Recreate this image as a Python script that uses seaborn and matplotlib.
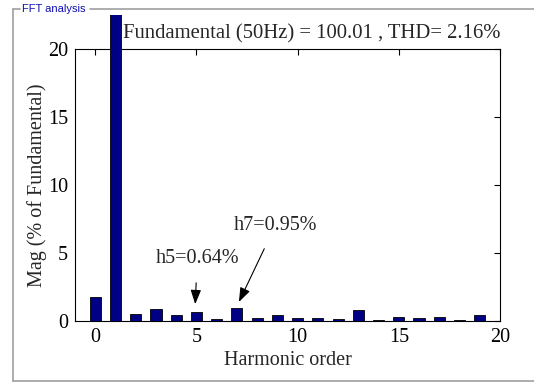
import matplotlib
matplotlib.use("Agg")
import matplotlib.pyplot as plt
from matplotlib.transforms import Bbox, TransformedBbox
from matplotlib.lines import Line2D
import seaborn as sns
import pandas as pd

# ---- data ----
harmonic_order = list(range(20))
magnitude = [1.79, 100.01, 0.54, 0.86, 0.42, 0.64, 0.15, 0.95, 0.20, 0.42,
             0.20, 0.20, 0.15, 0.81, 0.07, 0.32, 0.20, 0.32, 0.07, 0.42]
x_ticks = [0, 5, 10, 15, 20]
y_ticks = [0, 5, 10, 15, 20]
title_text = "Fundamental (50Hz) = 100.01 , THD= 2.16%"
panel_label = "FFT analysis"
annotations = [("h5=0.64%", 5, 0.64), ("h7=0.95%", 7, 0.95)]

df = pd.DataFrame({"order": harmonic_order, "mag": magnitude})

sns.set_style("white")
plt.rcParams["font.family"] = ["Liberation Serif", "DejaVu Serif"]

fig = plt.figure(figsize=(5.34, 3.83), dpi=100)
ax = fig.add_axes([75 / 534, 1 - 321 / 383, 425 / 534, (321 - 49.3) / 383])

sns.barplot(data=df, x="order", y="mag", native_scale=True, width=0.55,
            color="#000085", edgecolor="black", linewidth=0.6,
            saturation=1, ax=ax, errorbar=None)

ax.set_xlim(-1, 20)
ax.set_ylim(0, 20)
ax.set_xticks(x_ticks)
ax.set_yticks(y_ticks)
ax.tick_params(direction="in", length=4, width=0.8, top=True, right=True,
               labelsize=14.5, pad=5, colors="black")
ax.set_xlabel("Harmonic order", fontsize=14.5, labelpad=3)
ax.set_ylabel("Mag (% of Fundamental)", fontsize=14.5, labelpad=1)
for s in ax.spines.values():
    s.set_visible(True)
    s.set_color("black")
    s.set_linewidth(0.8)

# Let the off-scale fundamental bar run past the axes top, like the original
clip = TransformedBbox(Bbox([[0, 0], [1, 1 - 15 / 383]]), fig.transFigure)
for p in ax.patches:
    p.set_zorder(3)
    x0 = p.get_x() + p.get_width() / 2
    if abs(x0 - 1) < 0.01:
        p.set_clip_on(True)
        p.set_clip_box(clip)
        p.set_clip_path(None)

ax.text(0.557, 1.056, title_text, transform=ax.transAxes, fontsize=14.9,
        ha="center", va="center")

# annotations
arrow = dict(arrowstyle="-|>,head_length=0.6,head_width=0.22",
             color="black", lw=0.8, shrinkA=8, shrinkB=0)
ax.annotate(annotations[0][0], xy=(annotations[0][1] - 0.06, annotations[0][2] + 0.6),
            xytext=(5.04, 4.57), ha="center", va="center", fontsize=14.5,
            arrowprops=arrow)
ax.annotate(annotations[1][0], xy=(annotations[1][1] + 0.1, annotations[1][2] + 0.45),
            xytext=(8.89, 7.0), ha="center", va="center", fontsize=14.5,
            arrowprops=arrow)

# etched panel border with label
W, H = 534, 383
gray = "#a0a0a0"
def px_line(x0, y0, x1, y1):
    fig.add_artist(Line2D([x0 / W, x1 / W], [1 - y0 / H, 1 - y1 / H],
                          transform=fig.transFigure, color=gray, lw=1.2))
px_line(12.5, 9, 12.5, 381)
px_line(12.5, 381, 534, 381)
px_line(12.5, 9, 20, 9)
px_line(90, 9, 534, 9)
fig.text(22 / W, 1 - 9.5 / H, panel_label, fontsize=8, color="#1010b0",
         family=["Liberation Sans", "DejaVu Sans"], ha="left", va="center")

fig.savefig("out.png", dpi=100, facecolor="white")
